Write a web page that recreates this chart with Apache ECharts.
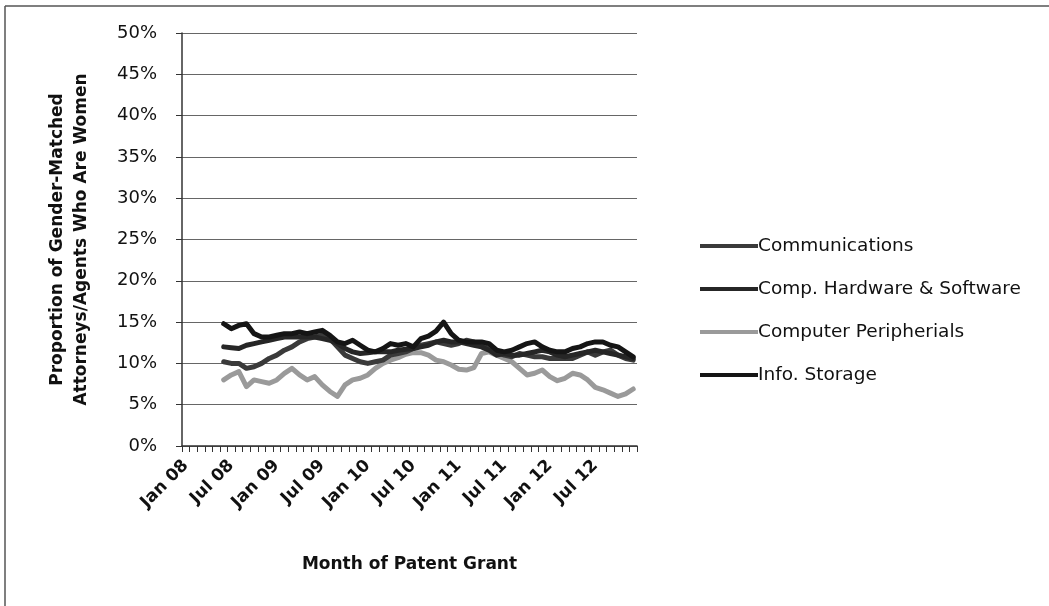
<!DOCTYPE html>
<html>
<head>
<meta charset="utf-8">
<script src="https://cdn.jsdelivr.net/npm/echarts@6/dist/echarts.min.js"></script>
<style>
html,body{margin:0;padding:0;background:#fff;}
#chart{width:1049px;height:606px;}
</style>
</head>
<body>
<div id="chart"></div>
<script>
const monthNames = ["Jan","Feb","Mar","Apr","May","Jun","Jul","Aug","Sep","Oct","Nov","Dec"];
const years = ["08","09","10","11","12"];
const categories = [];
years.forEach(y => monthNames.forEach(m => categories.push(m + " " + y)));

const seriesNames = ["Communications","Comp. Hardware & Software","Computer Peripherials","Info. Storage"];

// values in percent, Jan 08 .. Dec 12 (first five months empty)
const communications = [null,null,null,null,null,
 10.2,10.0,10.0,9.4,9.6,10.0,10.6,
 11.0,11.6,12.0,12.6,13.0,13.2,13.4,13.0,12.0,11.0,10.6,10.2,
 10.0,10.2,10.4,11.0,11.2,11.4,11.8,12.2,12.4,12.6,12.4,12.2,
 12.4,12.8,12.6,12.2,11.8,11.4,11.0,10.8,11.2,11.0,10.8,10.8,
 10.6,10.6,10.6,10.6,11.0,11.4,11.0,11.4,11.6,11.0,10.6,10.4];
const compHardware = [null,null,null,null,null,
 12.0,11.9,11.8,12.2,12.4,12.6,12.8,
 13.0,13.2,13.2,13.2,13.2,13.2,13.0,12.8,12.4,11.8,11.4,11.2,
 11.3,11.4,11.4,11.4,11.6,11.7,11.8,12.0,12.2,12.6,12.8,12.6,
 12.6,12.4,12.2,12.0,11.6,11.0,11.2,11.0,11.0,11.2,11.4,11.6,
 11.4,11.0,10.8,11.0,11.2,11.4,11.6,11.4,11.2,11.0,10.8,10.6];
const compPeripherals = [null,null,null,null,null,
 8.0,8.6,9.0,7.2,8.0,7.8,7.6,
 8.0,8.8,9.4,8.6,8.0,8.4,7.4,6.6,6.0,7.4,8.0,8.2,
 8.6,9.4,10.0,10.4,10.7,11.1,11.3,11.3,11.0,10.4,10.2,9.8,
 9.3,9.2,9.5,11.2,11.4,11.0,10.6,10.2,9.4,8.6,8.8,9.2,
 8.4,7.9,8.2,8.8,8.6,8.0,7.1,6.8,6.4,6.0,6.3,6.9];
const infoStorage = [null,null,null,null,null,
 14.8,14.2,14.6,14.8,13.6,13.2,13.2,
 13.4,13.6,13.6,13.8,13.6,13.8,14.0,13.4,12.6,12.4,12.8,12.2,
 11.6,11.4,11.8,12.4,12.2,12.4,12.0,13.0,13.3,13.9,15.0,13.6,
 12.8,12.6,12.6,12.6,12.4,11.6,11.4,11.6,12.0,12.4,12.6,12.0,
 11.6,11.4,11.4,11.8,12.0,12.4,12.6,12.6,12.2,12.0,11.4,10.8];

const seriesValues = [communications, compHardware, compPeripherals, infoStorage];
const seriesColors = ["#3a3a3a","#262626","#9a9a9a","#151515"];

const font = "'DejaVu Sans', sans-serif";
const chart = echarts.init(document.getElementById('chart'));
chart.setOption({
  animation: false,
  backgroundColor: '#fff',
  grid: {left: 182, right: 412, top: 33, bottom: 160, containLabel: false},
  graphic: [
    {type:'line', shape:{x1:5,y1:6,x2:1049,y2:6}, style:{stroke:'#555',lineWidth:1.5}},
    {type:'line', shape:{x1:5,y1:6,x2:5,y2:606}, style:{stroke:'#555',lineWidth:1.5}}
  ],
  legend: {
    orient: 'vertical',
    left: 695, top: 231,
    itemWidth: 58, itemHeight: 4, itemGap: 23,
    icon: 'rect',
    data: seriesNames,
    textStyle: {fontFamily: font, fontSize: 18.5, color: '#111', lineHeight: 20, padding:[0,0,0,-5]}
  },
  xAxis: {
    type: 'category',
    data: categories,
    boundaryGap: true,
    name: 'Month of Patent Grant',
    nameLocation: 'middle',
    nameGap: 110,
    nameTextStyle: {fontFamily: font, fontSize: 17, fontWeight: 'bold', color: '#111'},
    axisLine: {lineStyle: {color: '#333', width: 1.5}},
    axisTick: {show: true, interval: 0, length: 6, lineStyle: {color: '#333'}},
    axisLabel: {interval: 5, rotate: 45, margin: 17, fontFamily: font, fontSize: 17, fontWeight: 'bold', color: '#111'},
    splitLine: {show: false}
  },
  yAxis: {
    type: 'value',
    min: 0, max: 50, interval: 5,
    name: 'Proportion of Gender-Matched\nAttorneys/Agents Who Are Women',
    nameLocation: 'middle',
    nameGap: 88,
    nameRotate: 90,
    nameTextStyle: {fontFamily: font, fontSize: 17, fontWeight: 'bold', color: '#111', lineHeight: 24},
    axisLine: {show: true, lineStyle: {color: '#333', width: 1.5}},
    axisTick: {show: true, length: 6, inside: false, lineStyle: {color: '#333'}},
    axisLabel: {formatter: '{value}%', margin: 25, fontFamily: font, fontSize: 18, color: '#111'},
    splitLine: {show: true, lineStyle: {color: '#666', width: 1}}
  },
  series: seriesNames.map((n, i) => ({
    name: n,
    type: 'line',
    data: seriesValues[i],
    showSymbol: false,
    symbol: 'none',
    smooth: false,
    connectNulls: false,
    itemStyle: {color: seriesColors[i]},
    lineStyle: {color: seriesColors[i], width: 5, join: 'round', cap: 'round'},
    z: i === 2 ? 1 : 2
  }))
});
</script>
</body>
</html>
